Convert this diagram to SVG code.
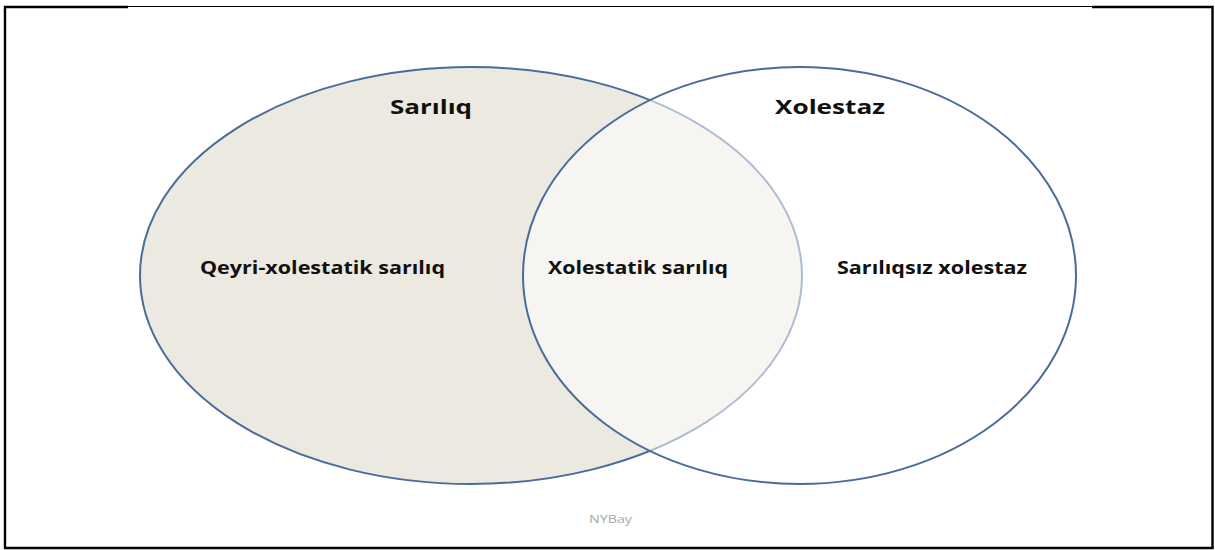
<svg xmlns="http://www.w3.org/2000/svg" width="1215" height="550" viewBox="0 0 1215 550">
<style>
.lbl{font-family:"Open Sans","DejaVu Sans",sans-serif;font-weight:bold;fill:#111;}
.ttl{font-size:20px;}
.sub{font-size:17px;}
.ring{stroke:#4A6C9B;stroke-width:2;}
</style>
<rect width="1215" height="550" fill="#fff"/>
<g id="frame" fill="none" stroke="#000">
<line x1="128" y1="6.5" x2="1092" y2="6.5" stroke-width="1.2"/>
<polyline points="5,548.5 5,7 128,7" stroke-width="2.4"/>
<polyline points="1092,7 1212.5,7 1212.5,548.5" stroke-width="2.4"/>
<line x1="4" y1="548" x2="1213.5" y2="548" stroke-width="2.4"/>
</g>
<g id="sarliq">
<ellipse class="ring" cx="471" cy="275.5" rx="331" ry="208.5" fill="#ECE9E0"/>
</g>
<g id="xolestaz">
<ellipse class="ring" cx="799.5" cy="275.5" rx="276.5" ry="208.5" fill="#fff" fill-opacity="0.55"/>
</g>
<g id="labels">
<text class="lbl ttl" x="390" y="114" textLength="82" lengthAdjust="spacingAndGlyphs">Sarılıq</text>
<text class="lbl ttl" x="775" y="114" textLength="110" lengthAdjust="spacingAndGlyphs">Xolestaz</text>
<text class="lbl sub" x="200" y="274" textLength="245" lengthAdjust="spacingAndGlyphs">Qeyri-xolestatik sarılıq</text>
<text class="lbl sub" x="548" y="274" textLength="180" lengthAdjust="spacingAndGlyphs">Xolestatik sarılıq</text>
<text class="lbl sub" x="837" y="274" textLength="190" lengthAdjust="spacingAndGlyphs">Sarılıqsız xolestaz</text>
<text x="589" y="523" textLength="43" lengthAdjust="spacingAndGlyphs" font-family="Open Sans, DejaVu Sans, sans-serif" font-size="10.5" fill="#A8A8A8">NYBay</text>
</g>
</svg>
